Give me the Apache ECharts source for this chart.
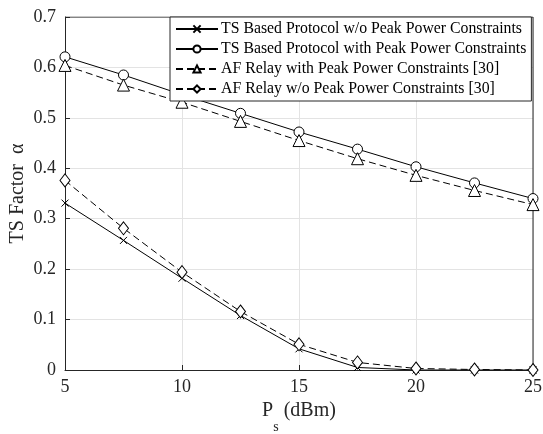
<!DOCTYPE html>
<html><head><meta charset="utf-8">
<script src="https://cdn.jsdelivr.net/npm/echarts@6/dist/echarts.min.js"></script>
<style>html,body{margin:0;padding:0;background:#fff}#c{width:543px;height:434px}</style>
</head><body><div id="c"></div>
<script>
var xValues = [5, 7.5, 10, 12.5, 15, 17.5, 20, 22.5, 25];
var tsNoPeak = [0.331, 0.257, 0.182, 0.108, 0.042, 0.005, 0, 0, 0];
var tsPeak = [0.621, 0.585, 0.546, 0.509, 0.472, 0.438, 0.403, 0.371, 0.340];
var afPeak = [0.604, 0.565, 0.531, 0.493, 0.455, 0.419, 0.386, 0.356, 0.328];
var afNoPeak = [0.376, 0.281, 0.194, 0.116, 0.051, 0.015, 0.003, 0.001, 0];
var names = ['TS Based Protocol w/o Peak Power Constraints','TS Based Protocol with Peak Power Constraints','AF Relay with Peak Power Constraints [30]','AF Relay w/o Peak Power Constraints [30]'];
function pts(v){return xValues.map(function(x,i){return [x,v[i]];});}
var font = '"Liberation Serif", "Times New Roman", serif';
var chart = echarts.init(document.getElementById('c'));
function mk(name, data, symbol, size, dashed){
  return {name:name,type:'line',data:pts(data),symbol:symbol,symbolSize:size,showSymbol:true,
    lineStyle:{color:'#000',width:1,type:dashed?[7,4]:'solid'},
    itemStyle:{color:'#fff',borderColor:'#000',borderWidth:1},
    emphasis:{disabled:true},animation:false,z:3};
}
chart.setOption({
  animation:false,
  grid:{left:65,right:10,top:17,bottom:64,outerBoundsMode:'none',containLabel:false},
  legend:{orient:'vertical',left:170,top:17,itemWidth:42,itemHeight:9,itemGap:4,
    padding:[4,5,4,5],backgroundColor:'#fff',borderColor:'#262626',borderWidth:1,
    textStyle:{fontFamily:font,fontSize:15.8,color:'#000',padding:[0,0,0,-2]},
    data:names},
  xAxis:{type:'value',min:5,max:25,interval:5,
    name:'{p|P}{s|s}{p| (dBm)}',nameLocation:'middle',nameGap:17,nameMoveOverlap:false,
    nameTextStyle:{rich:{p:{fontFamily:font,fontSize:20,color:'#262626'},s:{fontFamily:font,fontSize:14,color:'#262626',verticalAlign:'bottom',padding:[33,0,0,0]}}},
    axisLine:{show:true,onZero:false,lineStyle:{color:'#262626',width:1}},
    axisTick:{show:true,inside:true,length:5,lineStyle:{color:'#262626'}},
    axisLabel:{fontFamily:font,fontSize:18,color:'#262626',margin:8},
    splitLine:{show:true,lineStyle:{color:'#e3e3e3',width:1}}},
  yAxis:{type:'value',min:0,max:0.7,interval:0.1,
    name:'TS Factor  \u03b1',nameLocation:'middle',nameGap:37,nameMoveOverlap:false,
    nameTextStyle:{fontFamily:font,fontSize:20,color:'#262626'},
    axisLine:{show:true,lineStyle:{color:'#262626',width:1}},
    axisTick:{show:true,inside:true,length:5,lineStyle:{color:'#262626'}},
    axisLabel:{fontFamily:font,fontSize:18,color:'#262626',margin:9,
      formatter:function(v){return v===0?'0':v.toFixed(1);}},
    splitLine:{show:true,lineStyle:{color:'#e3e3e3',width:1}}},
  series:[
    mk(names[0],tsNoPeak,'path://M0,0L10,10M10,0L0,10',7,false),
    mk(names[1],tsPeak,'circle',10,false),
    mk(names[2],afPeak,'triangle',12,true),
    mk(names[3],afNoPeak,'path://M0,-10L7,0L0,10L-7,0Z',[10,13],true),
    {type:'line',data:[[5,0.7],[25,0.7],[25,0]],symbol:'none',silent:true,
     lineStyle:{color:'#262626',width:1},z:2,animation:false}
  ]
});
</script></body></html>
